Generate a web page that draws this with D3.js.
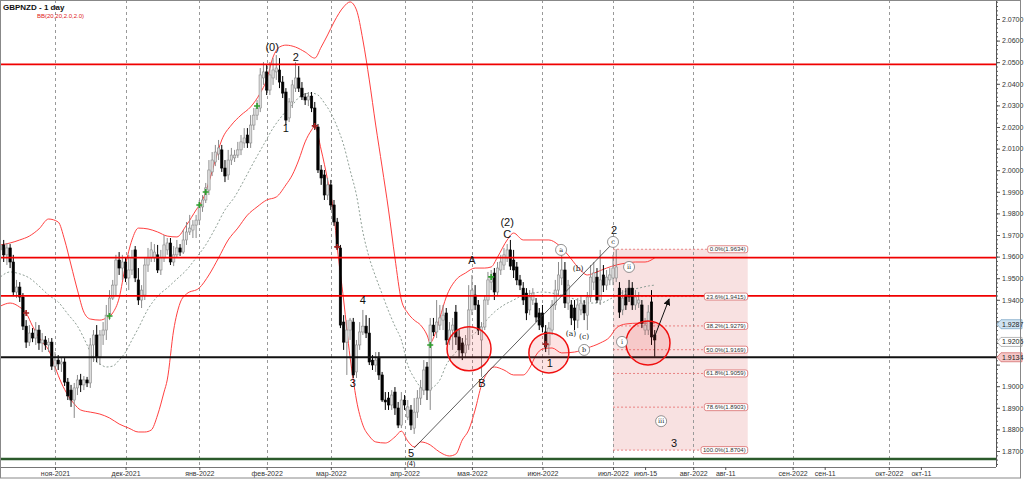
<!DOCTYPE html>
<html>
<head>
<meta charset="utf-8">
<title>GBPNZD - 1 day</title>
<script src="https://d3js.org/d3.v7.min.js"></script>
<style>
  body { margin: 0; background: #fff; }
  svg { display: block; font-family: "Liberation Sans", Arial, sans-serif; }
  .axis text { font-size: 7px; fill: #333; }
  .axis line, .axis path { stroke: #555; }
</style>
</head>
<body>
<svg id="chart" width="1024" height="479"></svg>
<script>
// candle i sits on slot firstSlot + i (one slot = one trading day, future slots = calendar days)
const firstSlot = -17;

const opens = [1.9631,1.9654,1.9608,1.9640,1.9575,1.9436,1.9459,1.9413,1.9278,1.9204,1.9246,1.9223,1.9260,1.9200,1.9214,1.9191,1.9204,
  1.9093,1.9121,1.9103,1.9112,1.9019,1.8982,1.8936,1.8992,1.9029,1.9006,1.9029,1.9015,1.9191,1.9237,1.9135,1.9237,1.9260,1.9329,1.9408,1.9468,
  1.9584,1.9547,1.9575,1.9501,1.9538,1.9631,1.9492,1.9399,1.9422,1.9561,1.9594,1.9594,1.9608,1.9538,1.9594,1.9631,1.9663,1.9575,1.9608,1.9640,
  1.9621,1.9677,1.9714,1.9723,1.9746,1.9769,1.9830,1.9862,1.9908,1.9992,2.0038,2.0075,2.0094,2.0010,1.9978,2.0047,2.0057,2.0070,2.0094,2.0126,
  2.0163,2.0126,2.0209,2.0255,2.0288,2.0427,2.0455,2.0371,2.0427,2.0455,2.0464,2.0408,2.0362,2.0242,2.0316,2.0380,2.0427,2.0380,2.0339,2.0325,
  2.0343,2.0288,2.0200,2.0001,1.9978,1.9885,1.9932,1.9839,1.9760,1.9640,1.9297,1.9204,1.9260,1.9297,1.9066,1.9191,1.9251,1.9278,1.9246,1.9121,
  1.9098,1.9130,1.9052,1.8936,1.8945,1.8913,1.8973,1.8899,1.8820,1.8936,1.8857,1.8890,1.8806,1.8880,1.8945,1.8982,1.9089,1.8982,1.9283,1.9251,
  1.9283,1.9306,1.9339,1.9214,1.9260,1.9343,1.9228,1.9200,1.9154,1.9191,1.9353,1.9422,1.9376,1.9214,1.9274,1.9399,1.9482,1.9524,1.9436,1.9538,
  1.9561,1.9594,1.9631,1.9584,1.9552,1.9492,1.9454,1.9431,1.9353,1.9399,1.9385,1.9339,1.9339,1.9251,1.9191,1.9260,1.9376,1.9445,1.9501,1.9538,
  1.9385,1.9376,1.9362,1.9306,1.9353,1.9376,1.9329,1.9413,1.9482,1.9505,1.9399,1.9515,1.9468,1.9492,1.9501,1.9501,1.9454,1.9353,1.9422,1.9454,
  1.9454,1.9376,1.9385,1.9376,1.9260,1.9260,1.9390,1.9237];

const highs = [1.9700,1.9677,1.9663,1.9658,1.9608,1.9492,1.9482,1.9431,1.9306,1.9283,1.9269,1.9297,1.9283,1.9246,1.9232,1.9223,1.9223,
  1.9158,1.9144,1.9135,1.9130,1.9038,1.9006,1.9015,1.9052,1.9057,1.9047,1.9043,1.9223,1.9260,1.9283,1.9260,1.9297,1.9376,1.9445,1.9492,1.9608,
  1.9621,1.9608,1.9594,1.9608,1.9631,1.9649,1.9547,1.9468,1.9594,1.9640,1.9668,1.9658,1.9654,1.9631,1.9700,1.9686,1.9686,1.9649,1.9677,1.9658,
  1.9723,1.9760,1.9793,1.9769,1.9793,1.9862,1.9885,1.9941,2.0047,2.0084,2.0117,2.0140,2.0117,2.0047,2.0094,2.0103,2.0094,2.0131,2.0163,2.0195,
  2.0195,2.0255,2.0288,2.0325,2.0473,2.0501,2.0487,2.0501,2.0519,2.0533,2.0519,2.0436,2.0380,2.0334,2.0418,2.0501,2.0482,2.0408,2.0357,2.0362,
  2.0362,2.0316,2.0214,2.0024,2.0001,1.9964,1.9955,1.9862,1.9779,1.9654,1.9329,1.9306,1.9316,1.9316,1.9214,1.9297,1.9353,1.9329,1.9316,1.9144,
  1.9158,1.9158,1.9066,1.8973,1.8973,1.8982,1.8996,1.8927,1.8973,1.8959,1.8936,1.8913,1.8945,1.8982,1.9029,1.9121,1.9112,1.9316,1.9316,1.9399,
  1.9376,1.9376,1.9362,1.9297,1.9316,1.9376,1.9260,1.9223,1.9237,1.9468,1.9515,1.9468,1.9399,1.9297,1.9422,1.9529,1.9538,1.9547,1.9575,1.9608,
  1.9640,1.9658,1.9677,1.9631,1.9575,1.9515,1.9482,1.9454,1.9445,1.9454,1.9408,1.9362,1.9376,1.9283,1.9297,1.9399,1.9492,1.9575,1.9608,1.9575,
  1.9492,1.9399,1.9399,1.9408,1.9417,1.9399,1.9436,1.9561,1.9575,1.9547,1.9631,1.9561,1.9538,1.9547,1.9608,1.9634,1.9482,1.9445,1.9454,1.9492,
  1.9482,1.9445,1.9436,1.9399,1.9316,1.9376,1.9445,1.9260];

const lows = [1.9594,1.9575,1.9561,1.9547,1.9417,1.9408,1.9390,1.9260,1.9177,1.9186,1.9204,1.9191,1.9168,1.9158,1.9168,1.9158,1.9075,
  1.9066,1.9075,1.9066,1.9001,1.8936,1.8904,1.8853,1.8959,1.8973,1.8982,1.8996,1.8992,1.9112,1.9112,1.9098,1.9191,1.9214,1.9306,1.9399,1.9422,
  1.9515,1.9492,1.9482,1.9445,1.9515,1.9482,1.9376,1.9362,1.9399,1.9529,1.9575,1.9575,1.9524,1.9515,1.9575,1.9608,1.9561,1.9556,1.9594,1.9603,
  1.9612,1.9654,1.9700,1.9686,1.9686,1.9746,1.9807,1.9848,1.9885,1.9973,2.0019,2.0047,1.9992,1.9945,1.9955,2.0024,2.0038,2.0057,2.0070,2.0103,
  2.0103,2.0103,2.0186,2.0232,2.0269,2.0395,2.0348,2.0348,2.0395,2.0418,2.0380,2.0334,2.0209,2.0223,2.0288,2.0362,2.0362,2.0325,2.0302,2.0297,
  2.0269,2.0186,1.9987,1.9932,1.9862,1.9862,1.9816,1.9742,1.9631,1.9269,1.9168,1.9052,1.9214,1.9038,1.9038,1.9168,1.9237,1.9223,1.9098,1.9075,
  1.9066,1.9029,1.8927,1.8890,1.8890,1.8890,1.8867,1.8806,1.8806,1.8890,1.8843,1.8797,1.8779,1.8853,1.8913,1.8959,1.8936,1.8890,1.9232,1.9223,
  1.9260,1.9260,1.9191,1.9191,1.9168,1.9191,1.9130,1.9121,1.9130,1.9168,1.9329,1.9353,1.9237,1.9043,1.9260,1.9376,1.9445,1.9399,1.9417,1.9515,
  1.9538,1.9575,1.9538,1.9501,1.9468,1.9445,1.9376,1.9306,1.9329,1.9376,1.9297,1.9260,1.9251,1.9158,1.9144,1.9237,1.9353,1.9422,1.9468,1.9362,
  1.9353,1.9283,1.9260,1.9269,1.9329,1.9306,1.9260,1.9390,1.9445,1.9385,1.9376,1.9436,1.9445,1.9468,1.9468,1.9482,1.9316,1.9329,1.9353,1.9390,
  1.9353,1.9353,1.9362,1.9269,1.9237,1.9237,1.9191,1.9136];

const closes = [1.9654,1.9608,1.9640,1.9575,1.9436,1.9459,1.9413,1.9278,1.9204,1.9246,1.9223,1.9260,1.9200,1.9214,1.9191,1.9204,1.9093,
  1.9121,1.9103,1.9112,1.9019,1.8955,1.8936,1.8992,1.9029,1.9006,1.9029,1.9015,1.9191,1.9237,1.9135,1.9237,1.9260,1.9329,1.9408,1.9468,1.9584,
  1.9547,1.9575,1.9501,1.9538,1.9594,1.9501,1.9399,1.9445,1.9561,1.9594,1.9631,1.9621,1.9538,1.9594,1.9654,1.9663,1.9575,1.9608,1.9640,1.9621,
  1.9677,1.9714,1.9732,1.9746,1.9769,1.9839,1.9862,1.9918,2.0001,2.0047,2.0084,2.0103,2.0010,1.9973,2.0047,2.0070,2.0070,2.0094,2.0131,2.0149,
  2.0126,2.0209,2.0255,2.0288,2.0441,2.0455,2.0371,2.0441,2.0464,2.0473,2.0408,2.0357,2.0232,2.0316,2.0395,2.0427,2.0380,2.0339,2.0325,2.0343,
  2.0288,2.0200,2.0001,1.9964,1.9885,1.9932,1.9839,1.9760,1.9640,1.9283,1.9204,1.9260,1.9306,1.9052,1.9191,1.9251,1.9278,1.9246,1.9112,1.9098,
  1.9121,1.9052,1.8936,1.8927,1.8913,1.8959,1.8899,1.8820,1.8936,1.8913,1.8904,1.8820,1.8880,1.8945,1.8992,1.9075,1.8982,1.9283,1.9251,1.9297,
  1.9316,1.9329,1.9214,1.9260,1.9283,1.9228,1.9168,1.9154,1.9191,1.9353,1.9445,1.9376,1.9260,1.9274,1.9399,1.9492,1.9505,1.9436,1.9547,1.9575,
  1.9608,1.9631,1.9556,1.9538,1.9492,1.9468,1.9399,1.9339,1.9413,1.9431,1.9320,1.9283,1.9274,1.9181,1.9269,1.9376,1.9445,1.9515,1.9538,1.9385,
  1.9468,1.9316,1.9306,1.9376,1.9385,1.9339,1.9413,1.9505,1.9524,1.9399,1.9492,1.9468,1.9505,1.9515,1.9547,1.9552,1.9343,1.9408,1.9376,1.9413,
  1.9376,1.9413,1.9399,1.9292,1.9283,1.9343,1.9228,1.9214];

// Bollinger bands (20, 2.0)
const upperSlots = [-17,-14,-11,-8,-5,-2,1,3,5,7,9,11,14,16,18,20,22,24,26,29,32,35,38,41,44,46,48,50,52,55,58,61,64,66,68,70,72,75,78,81,83,85,87,90,92,94,96,98,100,102,104,106,108,110,112,114,116,117,118,120,122,125,128,131,134,136,138,141,143,146,150,154,157,160,163,166,169,172,175,178,181,184,187];
const upperBand = [1.9654,1.9663,1.9677,1.9695,1.9728,1.9774,1.9760,1.9677,1.9561,1.9445,1.9343,1.9311,1.9306,1.9316,1.9339,1.9408,1.9561,1.9677,1.9732,1.9728,1.9714,1.9695,1.9691,1.9746,1.9816,1.9862,1.9945,2.0047,2.0140,2.0209,2.0255,2.0293,2.0357,2.0418,2.0524,2.0570,2.0579,2.0570,2.0547,2.0519,2.0570,2.0626,2.0686,2.0756,2.0779,2.0742,2.0603,2.0418,2.0209,2.0015,1.9816,1.9594,1.9399,1.9339,1.9306,1.9283,1.9237,1.9200,1.9223,1.9316,1.9413,1.9492,1.9524,1.9547,1.9547,1.9552,1.9598,1.9677,1.9709,1.9677,1.9677,1.9677,1.9654,1.9607,1.9552,1.9515,1.9529,1.9547,1.9561,1.9570,1.9575,1.9575,1.9594];

const middleSlots = [-17,-14,-11,-8,-5,-2,1,4,7,10,12,14,16,18,20,22,24,26,29,32,35,38,41,44,47,50,53,56,59,62,65,68,71,74,77,80,82,84,86,88,90,92,94,96,98,100,102,104,106,108,110,112,114,116,118,120,122,125,128,131,134,137,140,143,146,149,152,155,158,161,164,167,170,173,176,179,182,185,187];
const middleBand = [1.9506,1.9529,1.9520,1.9501,1.9464,1.9422,1.9390,1.9334,1.9278,1.9191,1.9126,1.9103,1.9089,1.9093,1.9121,1.9158,1.9214,1.9269,1.9357,1.9417,1.9455,1.9496,1.9538,1.9594,1.9654,1.9732,1.9816,1.9876,1.9955,2.0038,2.0117,2.0195,2.0255,2.0302,2.0348,2.0357,2.0348,2.0311,2.0265,2.0200,2.0117,2.0001,1.9885,1.9714,1.9594,1.9506,1.9427,1.9348,1.9278,1.9214,1.9098,1.9038,1.8996,1.8982,1.8996,1.9029,1.9098,1.9158,1.9214,1.9246,1.9297,1.9343,1.9376,1.9399,1.9422,1.9431,1.9436,1.9431,1.9422,1.9408,1.9394,1.9385,1.9385,1.9403,1.9427,1.9445,1.9454,1.9464,1.9468];

const lowerSlots = [-17,-14,-11,-9,-7,-4,-2,0,2,4,6,8,11,14,17,20,23,26,28,30,32,34,35,37,39,41,45,48,51,54,57,60,63,66,69,72,74,76,78,80,81,83,85,87,88,90,92,93,94,96,98,100,103,106,108,110,112,114,117,119,121,123,125,127,129,131,133,135,137,140,143,146,148,150,152,155,158,162,166,170,173,175,178,182,187];
const lowerBand = [1.9371,1.9385,1.9366,1.9339,1.9278,1.9204,1.9168,1.9089,1.9015,1.8959,1.8918,1.8890,1.8880,1.8871,1.8853,1.8825,1.8806,1.8788,1.8788,1.8797,1.8867,1.8973,1.9029,1.9260,1.9385,1.9427,1.9455,1.9515,1.9594,1.9677,1.9732,1.9792,1.9830,1.9862,1.9876,1.9932,1.9978,2.0047,2.0131,2.0186,2.0205,2.0094,1.9955,1.9792,1.9645,1.9399,1.9135,1.9029,1.8936,1.8820,1.8769,1.8742,1.8737,1.8765,1.8792,1.8746,1.8719,1.8742,1.8728,1.8705,1.8686,1.8677,1.8686,1.8751,1.8797,1.8890,1.9006,1.9066,1.9089,1.9075,1.9052,1.9052,1.9084,1.9144,1.9172,1.9177,1.9154,1.9158,1.9177,1.9200,1.9228,1.9269,1.9288,1.9292,1.9292];

// band touch markers
const greenSignals = [{slot: 17, price: 1.9325}, {slot: 45, price: 1.9839}, {slot: 47, price: 1.9899}, {slot: 63, price: 2.0297}, {slot: 117, price: 1.9191}, {slot: 136, price: 1.9506}];
const redSignals = [{slot: -9, price: 1.9339}, {slot: 81, price: 2.0205}, {slot: 88, price: 1.9645}, {slot: 153, price: 1.9195}];

// horizontal levels
const redLevels = [2.0490, 1.9595, 1.9418];
const blackLevel = 1.9134;
const greenLevel = 1.8663;

// fibonacci retracement
const fibLevels = [0, 23.6, 38.2, 50, 61.8, 78.6, 100];
const fibPrices = [1.9634, 1.9415, 1.9279, 1.9169, 1.9059, 1.8903, 1.8704];
const fibStartSlot = 174, fibEndSlot = 216;

// x axis ticks
const tickSlots = [0, 22, 45, 66, 86, 109, 130, 152, 174, 184, 199, 209, 230, 240, 260, 270];
const tickLabels = ['ноя-2021', 'дек-2021', 'янв-2022', 'фев-2022', 'мар-2022', 'апр-2022', 'мая-2022', 'июн-2022',
  'июл-2022', 'июл-15', 'авг-2022', 'авг-11', 'сен-2022', 'сен-11', 'окт-2022', 'окт-11'];
const gridSlots = [0, 22, 45, 66, 86, 109, 130, 152, 174, 199, 230, 260];

// price tags on the right scale
const priceTags = [1.9287, 1.9205, 1.9134];
const priceTagFill = ['#cfe3f1', '#ffffff', '#f6c9c9'];
const priceTagStroke = ['#6f9ec0', '#999999', '#d06060'];

// wave count
const waveLabels = [
  {t: '(0)', slot: 67.7, price: 2.0570}, {t: '2', slot: 75.1, price: 2.0524}, {t: '1', slot: 72, price: 2.0195},
  {t: '4', slot: 96, price: 1.9399}, {t: '3', slot: 92.9, price: 1.9015}, {t: '5', slot: 111, price: 1.8692},
  {t: 'A', slot: 130, price: 1.9584}, {t: 'B', slot: 133.1, price: 1.9015},
  {t: '(2)', slot: 141, price: 1.9760}, {t: 'C', slot: 141, price: 1.9705}, {t: '1', slot: 154.3, price: 1.9107},
  {t: '2', slot: 174.3, price: 1.9723}, {t: '3', slot: 193, price: 1.8737}
];
// partly hidden under the bottom edge
const edgeLabel = {t: '(4)', slot: 111, price: 1.8642};
const circledLabels = [
  {t: 'a', slot: 157.8, price: 1.9631}, {t: 'c', slot: 174, price: 1.9668}, {t: 'b', slot: 165, price: 1.9168},
  {t: 'i', slot: 176.8, price: 1.9205}, {t: 'ii', slot: 179, price: 1.9552}, {t: 'iii', slot: 189, price: 1.8838}
];
const parenLabels = [
  {t: '(b)', slot: 163.1, price: 1.9543}, {t: '(a)', slot: 160.9, price: 1.9242}, {t: '(c)', slot: 165, price: 1.9228}
];
const zones = [{slot: 129.1, price: 1.9173, r: 22}, {slot: 154, price: 1.9154, r: 20}, {slot: 184.9, price: 1.9200, r: 22}];
const trendLine = [{slot: 112, price: 1.8714}, {slot: 174, price: 1.9663}];
const arrowLine = [{slot: 186.8, price: 1.9223}, {slot: 191.5, price: 1.9404}];

const W = 1024, H = 479, plotW = 996, plotH = 467;

const x = d3.scaleLinear().domain([0, 187]).range([55, 55 + 187 * 3.207]);
const y = d3.scaleLinear().domain([1.87, 2.07]).range([451, 19]);

const candles = closes.map((c, i) => ({slot: firstSlot + i, o: opens[i], h: highs[i], l: lows[i], c: c}));

const svg = d3.select('#chart');
svg.append('rect').attr('width', W).attr('height', H).attr('fill', '#fff');

const defs = svg.append('defs');
defs.append('clipPath').attr('id', 'plotClip')
  .append('rect').attr('width', plotW).attr('height', plotH);
defs.append('marker').attr('id', 'arrowHead')
  .attr('viewBox', '0 0 10 10').attr('refX', 9).attr('refY', 5)
  .attr('markerWidth', 7).attr('markerHeight', 7).attr('orient', 'auto')
  .append('path').attr('d', 'M0,0L10,5L0,10z').attr('fill', '#111');

const plot = svg.append('g').attr('clip-path', 'url(#plotClip)');

// fib zone
plot.append('rect')
  .attr('x', x(fibStartSlot)).attr('y', y(fibPrices[0]))
  .attr('width', x(fibEndSlot) - x(fibStartSlot))
  .attr('height', y(fibPrices[fibPrices.length - 1]) - y(fibPrices[0]))
  .attr('fill', '#f8e1e1');

// month grid
plot.selectAll('.grid').data(gridSlots).enter().append('line')
  .attr('x1', d => Math.round(x(d)) + 0.5).attr('x2', d => Math.round(x(d)) + 0.5)
  .attr('y1', 0).attr('y2', plotH)
  .attr('stroke', '#999').attr('stroke-dasharray', '3,3');

plot.selectAll('.fib').data(fibPrices).enter().append('line')
  .attr('x1', x(fibStartSlot)).attr('x2', x(fibEndSlot))
  .attr('y1', d => y(d)).attr('y2', d => y(d))
  .attr('stroke', '#e46a6a').attr('stroke-width', 0.8).attr('stroke-dasharray', '2,2');

// bands
function band(slots, vals, color, dash) {
  const line = d3.line().x((d, i) => x(slots[i])).y(d => y(d)).curve(d3.curveMonotoneX);
  plot.append('path').datum(vals).attr('d', line)
    .attr('fill', 'none').attr('stroke', color).attr('stroke-width', 1)
    .attr('stroke-dasharray', dash);
}
band(middleSlots, middleBand, '#8f9f96', '2,2');
band(upperSlots, upperBand, '#ff4040', null);
band(lowerSlots, lowerBand, '#ff4040', null);

// candles
const bw = 2.4;
const cg = plot.append('g');
cg.selectAll('.wick').data(candles).enter().append('line')
  .attr('x1', d => x(d.slot)).attr('x2', d => x(d.slot))
  .attr('y1', d => y(d.h)).attr('y2', d => y(d.l))
  .attr('stroke', d => d.c >= d.o ? '#8a8a8a' : '#000').attr('stroke-width', 1);
cg.selectAll('.body').data(candles).enter().append('rect')
  .attr('x', d => x(d.slot) - bw / 2)
  .attr('y', d => y(Math.max(d.o, d.c)))
  .attr('width', bw)
  .attr('height', d => Math.max(1, Math.abs(y(d.o) - y(d.c))))
  .attr('fill', d => d.c >= d.o ? '#dcdcdc' : '#000')
  .attr('stroke', d => d.c >= d.o ? '#8a8a8a' : '#000')
  .attr('stroke-width', 0.6);

// horizontal levels
plot.selectAll('.lvl').data(redLevels).enter().append('line')
  .attr('x1', 0).attr('x2', plotW).attr('y1', d => y(d)).attr('y2', d => y(d))
  .attr('stroke', '#f00000').attr('stroke-width', 1.7);
plot.append('line').attr('x1', 0).attr('x2', plotW)
  .attr('y1', y(blackLevel)).attr('y2', y(blackLevel))
  .attr('stroke', '#111').attr('stroke-width', 2);
plot.append('line').attr('x1', 0).attr('x2', plotW)
  .attr('y1', y(greenLevel)).attr('y2', y(greenLevel))
  .attr('stroke', '#2b5a2b').attr('stroke-width', 2.6);

// zones
plot.selectAll('.zone').data(zones).enter().append('circle')
  .attr('cx', d => x(d.slot)).attr('cy', d => y(d.price)).attr('r', d => d.r)
  .attr('fill', 'rgba(240,60,60,0.14)').attr('stroke', '#f01010').attr('stroke-width', 1.5);

// trend line & arrow
plot.append('line')
  .attr('x1', x(trendLine[0].slot)).attr('y1', y(trendLine[0].price))
  .attr('x2', x(trendLine[1].slot)).attr('y2', y(trendLine[1].price))
  .attr('stroke', '#333').attr('stroke-width', 0.8);
plot.append('line')
  .attr('x1', x(arrowLine[0].slot)).attr('y1', y(arrowLine[0].price))
  .attr('x2', x(arrowLine[1].slot)).attr('y2', y(arrowLine[1].price))
  .attr('stroke', '#111').attr('stroke-width', 1).attr('marker-end', 'url(#arrowHead)');

// signal crosses
function crosses(data, color) {
  plot.selectAll(null).data(data).enter().append('path')
    .attr('d', d => {
      const cx = x(d.slot), cy = y(d.price);
      return `M${cx - 3},${cy}H${cx + 3}M${cx},${cy - 3}V${cy + 3}`;
    })
    .attr('stroke', color).attr('stroke-width', 1.6);
}
crosses(greenSignals, '#2e9e2e');
crosses(redSignals, '#a52020');

// wave labels
plot.selectAll('.wave').data(waveLabels).enter().append('text')
  .attr('x', d => x(d.slot)).attr('y', d => y(d.price))
  .attr('text-anchor', 'middle').attr('dominant-baseline', 'central')
  .attr('font-size', 11).attr('fill', '#111').text(d => d.t);
plot.append('text')
  .attr('x', x(edgeLabel.slot)).attr('y', y(edgeLabel.price))
  .attr('text-anchor', 'middle').attr('dominant-baseline', 'central')
  .attr('font-size', 7).attr('fill', '#111').text(edgeLabel.t);

const circ = plot.selectAll('.circ').data(circledLabels).enter().append('g')
  .attr('transform', d => `translate(${x(d.slot)},${y(d.price)})`);
circ.append('circle').attr('r', 5.5).attr('fill', '#fff').attr('stroke', '#777').attr('stroke-width', 0.8);
circ.append('text').attr('text-anchor', 'middle').attr('dominant-baseline', 'central')
  .attr('font-family', '"DejaVu Serif", serif').attr('font-size', 6.5).attr('fill', '#222').text(d => d.t);

plot.selectAll('.paren').data(parenLabels).enter().append('text')
  .attr('x', d => x(d.slot)).attr('y', d => y(d.price))
  .attr('text-anchor', 'middle').attr('dominant-baseline', 'central')
  .attr('font-family', '"DejaVu Serif", serif').attr('font-size', 7.5).attr('fill', '#222').text(d => d.t);

// fib labels
const fl = plot.selectAll('.fibl').data(fibPrices).enter().append('g');
fl.append('text')
  .attr('x', x(fibEndSlot) - 2).attr('y', d => y(d))
  .attr('text-anchor', 'end').attr('dominant-baseline', 'central')
  .attr('font-size', 6).attr('fill', '#333')
  .text((d, i) => `${fibLevels[i].toFixed(1)}%(${d.toFixed(4)})`);
fl.each(function () {
  const g = d3.select(this);
  const bb = g.select('text').node().getBBox();
  g.insert('rect', 'text')
    .attr('x', bb.x - 2).attr('y', bb.y - 0.5).attr('width', bb.width + 4).attr('height', bb.height + 1)
    .attr('rx', 2).attr('fill', '#fff').attr('stroke', '#d86a6a').attr('stroke-width', 0.8);
});

// right price scale
const ax = svg.append('g').attr('class', 'axis');
ax.append('line').attr('x1', plotW + 0.5).attr('x2', plotW + 0.5).attr('y1', 0).attr('y2', plotH).attr('stroke', '#555');
const minorAxis = d3.axisRight(y).tickValues(d3.range(1864, 2080, 2).map(v => v / 1000)).tickSize(2).tickFormat('');
ax.append('g').attr('transform', `translate(${plotW},0)`).call(minorAxis).call(g => g.select('.domain').remove());
const yAxis = d3.axisRight(y).tickValues(d3.range(187, 208).map(v => v / 100)).tickSize(4).tickPadding(2)
  .tickFormat(d3.format('.4f'));
ax.append('g').attr('transform', `translate(${plotW},0)`).call(yAxis)
  .call(g => g.select('.domain').remove())
  // labels that sit under a price tag are covered by it
  .call(g => g.selectAll('.tick text')
    .attr('display', d => priceTags.some(p => Math.abs(y(p) - y(d)) < 8) ? 'none' : null));

// price tags
const tg = svg.selectAll('.tag').data(priceTags).enter().append('g')
  .attr('transform', d => `translate(${plotW},${y(d)})`);
tg.append('path')
  .attr('d', 'M1,0L5,-4.5H26V4.5H5Z')
  .attr('fill', (d, i) => priceTagFill[i]).attr('stroke', (d, i) => priceTagStroke[i]).attr('stroke-width', 0.7);
tg.append('text').attr('x', 6).attr('dominant-baseline', 'central')
  .attr('font-size', 7).attr('fill', '#222').text(d => d.toFixed(4));

// bottom time scale
svg.append('line').attr('x1', 0).attr('x2', plotW).attr('y1', plotH + 0.5).attr('y2', plotH + 0.5).attr('stroke', '#777');
const xAxis = d3.axisBottom(x).tickValues(tickSlots).tickSize(3).tickPadding(1)
  .tickFormat((d, i) => tickLabels[i]);
svg.append('g').attr('class', 'axis').attr('transform', `translate(0,${plotH})`).call(xAxis)
  .call(g => g.select('.domain').remove());

// frame & title
svg.append('rect').attr('x', 0.5).attr('y', 0.5).attr('width', 1020).attr('height', H - 1.5)
  .attr('fill', 'none').attr('stroke', '#888');
svg.append('text').attr('x', 3).attr('y', 10).attr('font-size', 8).attr('font-weight', 'bold')
  .attr('fill', '#111').text('GBPNZD - 1 day');
svg.append('text').attr('x', 37).attr('y', 18).attr('font-size', 6).attr('fill', '#e02020')
  .text('BB(20,20,2.0,2.0)');
</script>
</body>
</html>
